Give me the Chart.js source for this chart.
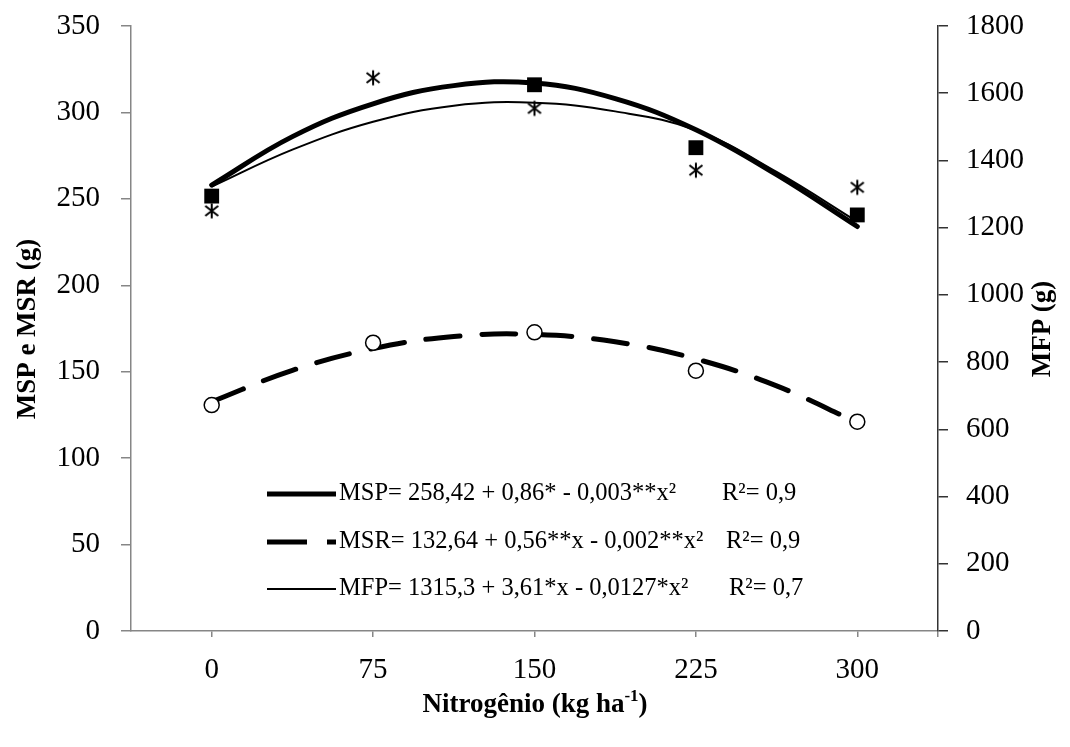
<!DOCTYPE html>
<html>
<head>
<meta charset="utf-8">
<script src="https://cdn.jsdelivr.net/npm/chart.js@4.4.1/dist/chart.umd.min.js"></script>
<style>
html,body{margin:0;padding:0;background:#fff;}
#wrap{width:1070px;height:747px;}
</style>
</head>
<body>
<div id="wrap"><canvas id="c" width="1070" height="747"></canvas></div>
<script>
// ---- data ----
const nitrogen = [0, 75, 150, 225, 300];
const mspObs = [251.6, null, 316, 279.6, 240.7];
const msrObs = [130.7, 166.8, 172.8, 150.6, 121.1];
const mfpObs = [1250, 1646, 1555, 1371, 1320];

const curveX = [0, 37.5, 75, 112.5, 150, 187.5, 225, 262.5, 300];
const mspFit = [258, 286, 305, 315.5, 317, 308, 290, 264, 234];
const msrFit = [132.6, 150.8, 163.4, 170.4, 171.6, 167.3, 157.4, 141.8, 120.6];
const mfpFit = [1322, 1432, 1515, 1563, 1572, 1546, 1490, 1366, 1218];

const xTicks = [0, 75, 150, 225, 300];
const legendRows = [
  {label: 'MSP= 258,42 + 0,86* - 0,003**x²', r2: 'R²= 0,9'},
  {label: 'MSR= 132,64 + 0,56**x - 0,002**x²', r2: 'R²= 0,9'},
  {label: 'MFP= 1315,3 + 3,61*x - 0,0127*x²', r2: 'R²= 0,7'}
];
const yTitle = 'MSP e MSR (g)';
const y1Title = 'MFP (g)';
const xTitleMain = 'Nitrogênio (kg ha';
const xTitleSup = '-1';

// ---- styling ----
const FONT = "'Liberation Serif', 'Times New Roman', serif";
const GRAY = '#868686';

function pts(xs, ys) { return xs.map((x, i) => ({x: x, y: ys[i]})); }

const ast = document.createElement('canvas');
ast.width = 18; ast.height = 18;
(function(){
  const g = ast.getContext('2d');
  g.strokeStyle = '#000'; g.lineWidth = 2; g.lineCap = 'butt';
  g.beginPath();
  g.moveTo(9, 1.5); g.lineTo(9, 16.5);
  g.moveTo(2.5, 4); g.lineTo(15.5, 14);
  g.moveTo(15.5, 4); g.lineTo(2.5, 14);
  g.stroke();
})();

const overlay = {
  id: 'overlay',
  afterDraw(chart) {
    const ctx = chart.ctx;
    ctx.save();
    ctx.fillStyle = '#000';
    // legend
    const rowsY = [494, 542, 589];
    const r2X = [722, 726, 729];
    const styles = [
      {w: 5, dash: []},
      {w: 5, dash: [40, 20]},
      {w: 2, dash: []}
    ];
    legendRows.forEach((r, i) => {
      ctx.save();
      ctx.strokeStyle = '#000';
      ctx.lineWidth = styles[i].w;
      ctx.setLineDash(styles[i].dash);
      ctx.lineCap = 'butt';
      ctx.beginPath();
      ctx.moveTo(267, rowsY[i]);
      ctx.lineTo(336, rowsY[i]);
      ctx.stroke();
      ctx.restore();
      ctx.font = '24.5px ' + FONT;
      ctx.textAlign = 'left';
      ctx.textBaseline = 'middle';
      ctx.fillText(r.label, 339, rowsY[i]);
      ctx.fillText(r.r2, r2X[i], rowsY[i]);
    });
    // axis titles
    ctx.font = 'bold 27px ' + FONT;
    ctx.textAlign = 'center';
    ctx.textBaseline = 'middle';
    ctx.save();
    ctx.translate(28, 329);
    ctx.rotate(-Math.PI / 2);
    ctx.fillText(yTitle, 0, 0);
    ctx.restore();
    ctx.save();
    ctx.translate(1043, 329);
    ctx.rotate(-Math.PI / 2);
    ctx.fillText(y1Title, 0, 0);
    ctx.restore();
    // x title with superscript
    ctx.textAlign = 'left';
    const mainW = ctx.measureText(xTitleMain).width;
    ctx.font = 'bold 17px ' + FONT;
    const supW = ctx.measureText(xTitleSup).width;
    ctx.font = 'bold 27px ' + FONT;
    const closeW = ctx.measureText(')').width;
    let x0 = 535 - (mainW + supW + closeW) / 2;
    ctx.fillText(xTitleMain, x0, 705);
    ctx.font = 'bold 17px ' + FONT;
    ctx.fillText(xTitleSup, x0 + mainW, 697);
    ctx.font = 'bold 27px ' + FONT;
    ctx.fillText(')', x0 + mainW + supW, 705);
    ctx.restore();
  }
};

new Chart(document.getElementById('c'), {
  type: 'line',
  data: {
    datasets: [
      {data: pts(nitrogen, mspObs), yAxisID: 'y', showLine: false, pointStyle: 'rect', pointRadius: 10.5,
       pointBackgroundColor: '#000', pointBorderColor: '#000', pointBorderWidth: 0},
      {data: pts(nitrogen, msrObs), yAxisID: 'y', showLine: false, pointStyle: 'circle', pointRadius: 7.5,
       pointBackgroundColor: '#fff', pointBorderColor: '#000', pointBorderWidth: 1.5},
      {data: pts(nitrogen, mfpObs), yAxisID: 'y1', showLine: false, pointStyle: ast, pointRadius: 9},
      {data: pts(curveX, mspFit), yAxisID: 'y', borderColor: '#000', borderWidth: 5, pointRadius: 0,
       tension: 0.4, borderCapStyle: 'round'},
      {data: pts(curveX, msrFit), yAxisID: 'y', borderColor: '#000', borderWidth: 5, pointRadius: 0,
       tension: 0.4, borderDash: [34, 22], borderCapStyle: 'round'},
      {data: pts(curveX, mfpFit), yAxisID: 'y1', borderColor: '#000', borderWidth: 2, pointRadius: 0,
       tension: 0.4}
    ]
  },
  options: {
    responsive: false,
    animation: false,
    devicePixelRatio: 1,
    layout: {padding: {top: 26, bottom: 0, left: 0, right: 0}},
    plugins: {legend: {display: false}, tooltip: {enabled: false}},
    scales: {
      x: {
        type: 'linear', position: 'bottom', min: -37.5, max: 337.5,
        afterBuildTicks: s => { s.ticks = xTicks.concat([337.5]).map(v => ({value: v})); },
        afterFit: s => { s.height = 116; s.paddingLeft = 0; s.paddingRight = 0; },
        ticks: {callback: v => (v === 337.5 ? '' : String(v)), color: '#000', font: {family: FONT, size: 29}, padding: 16, maxRotation: 0},
        grid: {drawOnChartArea: false, drawTicks: true, tickLength: 6, color: GRAY, lineWidth: 1.5},
        border: {color: GRAY, width: 1.5}
      },
      y: {
        position: 'left', min: 0, max: 350,
        afterFit: s => { s.width = 131; s.paddingTop = 0; s.paddingBottom = 0; },
        ticks: {stepSize: 50, callback: v => String(v), color: '#000', font: {family: FONT, size: 29}, padding: 21},
        grid: {drawOnChartArea: false, drawTicks: true, tickLength: 10, color: GRAY, lineWidth: 1.5},
        border: {color: GRAY, width: 1.5}
      },
      y1: {
        position: 'right', min: 0, max: 1800,
        afterFit: s => { s.width = 132; s.paddingTop = 0; s.paddingBottom = 0; },
        ticks: {stepSize: 200, callback: v => String(v), color: '#000', font: {family: FONT, size: 29}, padding: 18},
        grid: {drawOnChartArea: false, drawTicks: true, tickLength: 10, color: '#333', lineWidth: 1.5},
        border: {color: '#333', width: 1.5}
      }
    }
  },
  plugins: [overlay]
});
</script>
</body>
</html>
